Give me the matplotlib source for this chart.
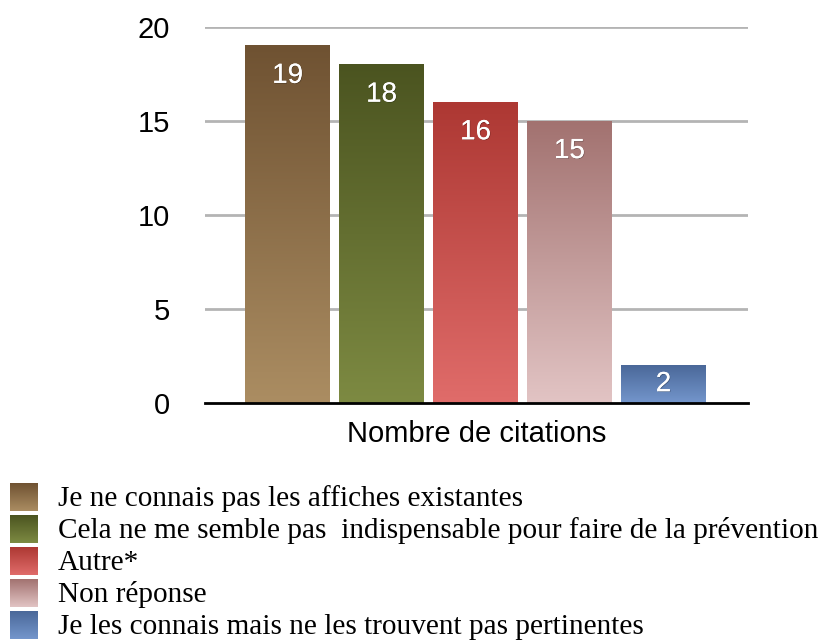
import numpy as np
import matplotlib.pyplot as plt
from matplotlib.colors import LinearSegmentedColormap
import matplotlib.patheffects as pe

categories = [
    "Je ne connais pas les affiches existantes",
    "Cela ne me semble pas  indispensable pour faire de la prévention",
    "Autre*",
    "Non réponse",
    "Je les connais mais ne les trouvent pas pertinentes",
]
values = [19, 18, 16, 15, 2]
top_colors = ["#6f5232", "#4b5420", "#ad3833", "#a27270", "#4a6899"]
bottom_colors = ["#ab8d62", "#7d8a42", "#e06c6a", "#e2c4c4", "#7496cc"]
yticks = [0, 5, 10, 15, 20]
xlabel = "Nombre de citations"

W, H = 823, 644
fig = plt.figure(figsize=(W / 100, H / 100), dpi=100)
ax = fig.add_axes([205 / W, 1 - 403 / H, 543 / W, 376 / H])

grad = np.linspace(0, 1, 256).reshape(-1, 1)
width = 0.9
x = np.arange(len(values))
for i, v in enumerate(values):
    cmap = LinearSegmentedColormap.from_list(f"g{i}", [bottom_colors[i], top_colors[i]])
    ax.imshow(grad, cmap=cmap, origin="lower", aspect="auto",
              extent=[x[i] - width / 2, x[i] + width / 2, 0, v], zorder=3)
    ax.text(x[i], max(v - 1.6, v / 2), str(v), ha="center", va="center", color="white",
            fontsize=20, fontfamily="Liberation Sans", zorder=4,
            path_effects=[pe.withSimplePatchShadow(offset=(0.5, -0.5), shadow_rgbFace="#000000", alpha=0.3),
                          pe.Normal()])

ax.set_xlim(-0.88, 4.9)
ax.set_ylim(0, 20)
ax.set_yticks(yticks)
ax.set_yticklabels([str(t) for t in yticks], fontsize=21, fontfamily="Liberation Sans")
ax.tick_params(axis="y", length=0, pad=25)
ax.set_xticks([])
for s in ["top", "right", "left"]:
    ax.spines[s].set_visible(False)
ax.spines["bottom"].set_linewidth(2)
ax.spines["bottom"].set_zorder(5)
for t in yticks[1:]:
    ax.axhline(t, color="#b4b4b4", linewidth=2, zorder=1)
ax.set_xlabel(xlabel, fontsize=21, fontfamily="Liberation Sans", labelpad=12)

# legend in pixel coordinates
lax = fig.add_axes([0, 0, 1, 1])
lax.set_xlim(0, W)
lax.set_ylim(H, 0)
lax.axis("off")
row_y = [497, 529, 561, 593, 625]
for i, name in enumerate(categories):
    cmap = LinearSegmentedColormap.from_list(f"l{i}", [top_colors[i], bottom_colors[i]])
    lax.imshow(grad, cmap=cmap, origin="upper", aspect="auto",
               extent=[10, 38, row_y[i] + 14, row_y[i] - 14])
    lax.text(58, row_y[i] + 2, name, ha="left", va="center", fontsize=21.1,
             fontfamily="Liberation Serif", color="black")
lax.set_xlim(0, W)
lax.set_ylim(H, 0)

fig.savefig("out.png", dpi=100)
